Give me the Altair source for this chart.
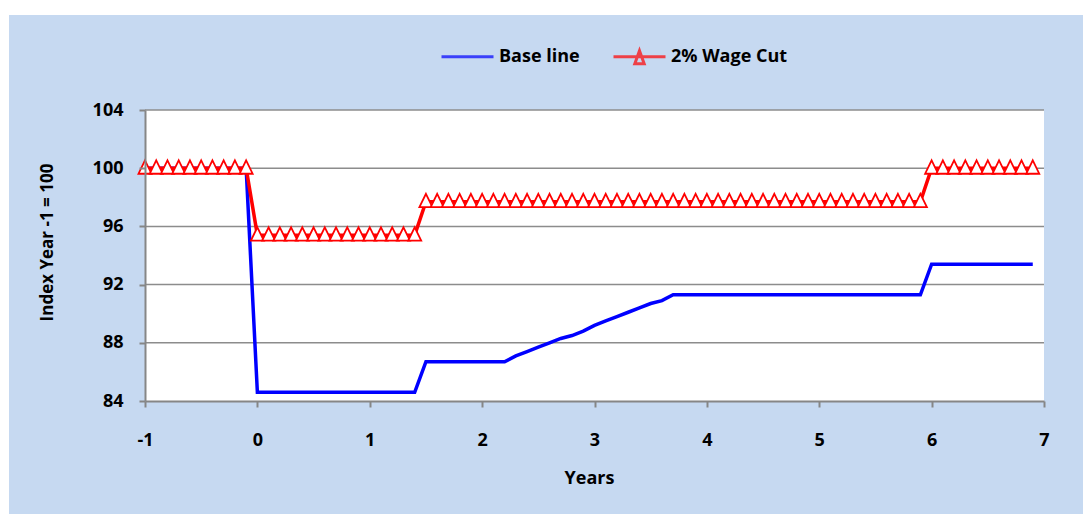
import altair as alt
import pandas as pd

years = [
    -1.0, -0.9, -0.8, -0.7, -0.6, -0.5, -0.4, -0.3, -0.2, -0.1,
    0.0, 0.1, 0.2, 0.3, 0.4, 0.5, 0.6, 0.7, 0.8, 0.9,
    1.0, 1.1, 1.2, 1.3, 1.4, 1.5, 1.6, 1.7, 1.8, 1.9,
    2.0, 2.1, 2.2, 2.3, 2.4, 2.5, 2.6, 2.7, 2.8, 2.9,
    3.0, 3.1, 3.2, 3.3, 3.4, 3.5, 3.6, 3.7, 3.8, 3.9,
    4.0, 4.1, 4.2, 4.3, 4.4, 4.5, 4.6, 4.7, 4.8, 4.9,
    5.0, 5.1, 5.2, 5.3, 5.4, 5.5, 5.6, 5.7, 5.8, 5.9,
    6.0, 6.1, 6.2, 6.3, 6.4, 6.5, 6.6, 6.7, 6.8, 6.9,
]

base_line = [
    100, 100, 100, 100, 100, 100, 100, 100, 100, 100,
    84.6, 84.6, 84.6, 84.6, 84.6, 84.6, 84.6, 84.6, 84.6, 84.6,
    84.6, 84.6, 84.6, 84.6, 84.6, 86.7, 86.7, 86.7, 86.7, 86.7,
    86.7, 86.7, 86.7, 87.1, 87.4, 87.7, 88.0, 88.3, 88.5, 88.8,
    89.2, 89.5, 89.8, 90.1, 90.4, 90.7, 90.9, 91.3, 91.3, 91.3,
    91.3, 91.3, 91.3, 91.3, 91.3, 91.3, 91.3, 91.3, 91.3, 91.3,
    91.3, 91.3, 91.3, 91.3, 91.3, 91.3, 91.3, 91.3, 91.3, 91.3,
    93.4, 93.4, 93.4, 93.4, 93.4, 93.4, 93.4, 93.4, 93.4, 93.4,
]

wage_cut = [
    100, 100, 100, 100, 100, 100, 100, 100, 100, 100,
    95.4, 95.4, 95.4, 95.4, 95.4, 95.4, 95.4, 95.4, 95.4, 95.4,
    95.4, 95.4, 95.4, 95.4, 95.4, 97.7, 97.7, 97.7, 97.7, 97.7,
    97.7, 97.7, 97.7, 97.7, 97.7, 97.7, 97.7, 97.7, 97.7, 97.7,
    97.7, 97.7, 97.7, 97.7, 97.7, 97.7, 97.7, 97.7, 97.7, 97.7,
    97.7, 97.7, 97.7, 97.7, 97.7, 97.7, 97.7, 97.7, 97.7, 97.7,
    97.7, 97.7, 97.7, 97.7, 97.7, 97.7, 97.7, 97.7, 97.7, 97.7,
    100, 100, 100, 100, 100, 100, 100, 100, 100, 100,
]

series_names = ["Base line", "2% Wage Cut"]
series_colors = ["#0000FF", "#FF0000"]
legend_shapes = [
    "M-1,0L1,0M0,-0.23L0,-0.23M0,0.27L0,0.27",
    "M-1,0L1,0M0,-0.23L0.18,0.27L-0.18,0.27Z",
]
marker_shape = "M0,-1.2L1,0.85L-1,0.85Z"
y_ticks = [84, 88, 92, 96, 100, 104]
grid_values = [88, 92, 96, 100, 104]
x_ticks = [-1, 0, 1, 2, 3, 4, 5, 6, 7]

W, H = 899, 291
FONT = "Open Sans"
GRAY = "#868686"

df = pd.concat([
    pd.DataFrame({"year": years, "value": base_line, "series": series_names[0]}),
    pd.DataFrame({"year": years, "value": wage_cut, "series": series_names[1]}),
])

xscale = alt.Scale(domain=[-1, 7], nice=False, zero=False)
yscale = alt.Scale(domain=[84, 104], nice=False, zero=False)

x_axis = alt.Axis(
    values=x_ticks, title="Years", grid=False, labelExpr="datum.value + ''", labelFlush=False,
    labelFont=FONT, labelFontSize=18, labelFontWeight="bold", labelColor="black",
    titleFont=FONT, titleFontSize=18, titleFontWeight="bold", titleColor="black",
    domainColor=GRAY, domainWidth=2, tickColor=GRAY, tickWidth=2, tickSize=6,
    labelPadding=24, titleX=444, titleY=77, titleBaseline="middle", titleAlign="center",
    zindex=1,
)
y_axis = alt.Axis(
    values=y_ticks, title="Index Year -1 = 100", grid=False, labelFlush=False,
    labelFont=FONT, labelFontSize=18, labelFontWeight="bold", labelColor="black",
    titleFont=FONT, titleFontSize=17, titleFontWeight="bold", titleColor="black",
    domainColor=GRAY, domainWidth=2, tickColor=GRAY, tickWidth=2, tickSize=6,
    labelPadding=16, titleX=-98, titleY=132, titleBaseline="middle", titleAlign="center",
    zindex=1,
)

dummy = pd.DataFrame({"a": [0]})
bg = alt.Chart(dummy).mark_rect(color="#C6D9F1").encode(
    x=alt.value(-136), x2=alt.value(W + 39), y=alt.value(-95), y2=alt.value(H + 113)
)
plot_bg = alt.Chart(dummy).mark_rect(color="white").encode(
    x=alt.value(0), x2=alt.value(W), y=alt.value(0), y2=alt.value(H)
)
grid = alt.Chart(pd.DataFrame({"v": grid_values})).mark_rule(
    color="#8C8C8C", strokeWidth=1.5
).encode(y=alt.Y("v:Q", scale=yscale, axis=y_axis))

legend = alt.Legend(
    title=None, orient="none", legendX=295, legendY=-81, direction="horizontal",
    symbolSize=2704, symbolStrokeWidth=3, symbolFillColor="transparent",
    labelFont=FONT, labelFontSize=18, labelFontWeight="bold", labelColor="black",
    labelOffset=4, columnPadding=27, padding=0,
)

color = alt.Color("series:N", scale=alt.Scale(domain=series_names, range=series_colors),
                  legend=legend)
shape = alt.Shape("series:N", scale=alt.Scale(domain=series_names, range=legend_shapes),
                  legend=legend)

base = alt.Chart(df).encode(
    x=alt.X("year:Q", scale=xscale, axis=x_axis),
    y=alt.Y("value:Q", scale=yscale, axis=y_axis),
    color=color,
)
blue_line = base.transform_filter(alt.datum.series == series_names[0]).mark_line(strokeWidth=3.5)
red_line = base.transform_filter(alt.datum.series == series_names[1]).mark_line(strokeWidth=3.5)
red_pts = alt.Chart(df).transform_filter(alt.datum.series == series_names[1]).mark_point(
    shape=marker_shape, size=169, fill="white", fillOpacity=1, stroke="#FF0000",
    strokeWidth=1.8, opacity=1
).encode(
    x=alt.X("year:Q", scale=xscale, axis=x_axis),
    y=alt.Y("value:Q", scale=yscale, axis=y_axis),
)
# legend-only layer: no rows pass the filter, so it draws nothing in the plot
legend_layer = alt.Chart(df).transform_filter("datum.value < 0").mark_point(
    filled=False, strokeWidth=3
).encode(
    x=alt.X("year:Q", scale=xscale, axis=x_axis),
    y=alt.Y("value:Q", scale=yscale, axis=y_axis),
    color=color,
    shape=shape,
)

chart = alt.layer(bg, plot_bg, grid, blue_line, red_line, red_pts, legend_layer).properties(
    width=W, height=H,
    autosize=alt.AutoSizeParams(type="none"),
    padding={"left": 145, "top": 110, "right": 39, "bottom": 113},
).configure(background="white").configure_view(stroke="transparent")

chart.save("out.html", embed_options={"renderer": "svg", "actions": False})
